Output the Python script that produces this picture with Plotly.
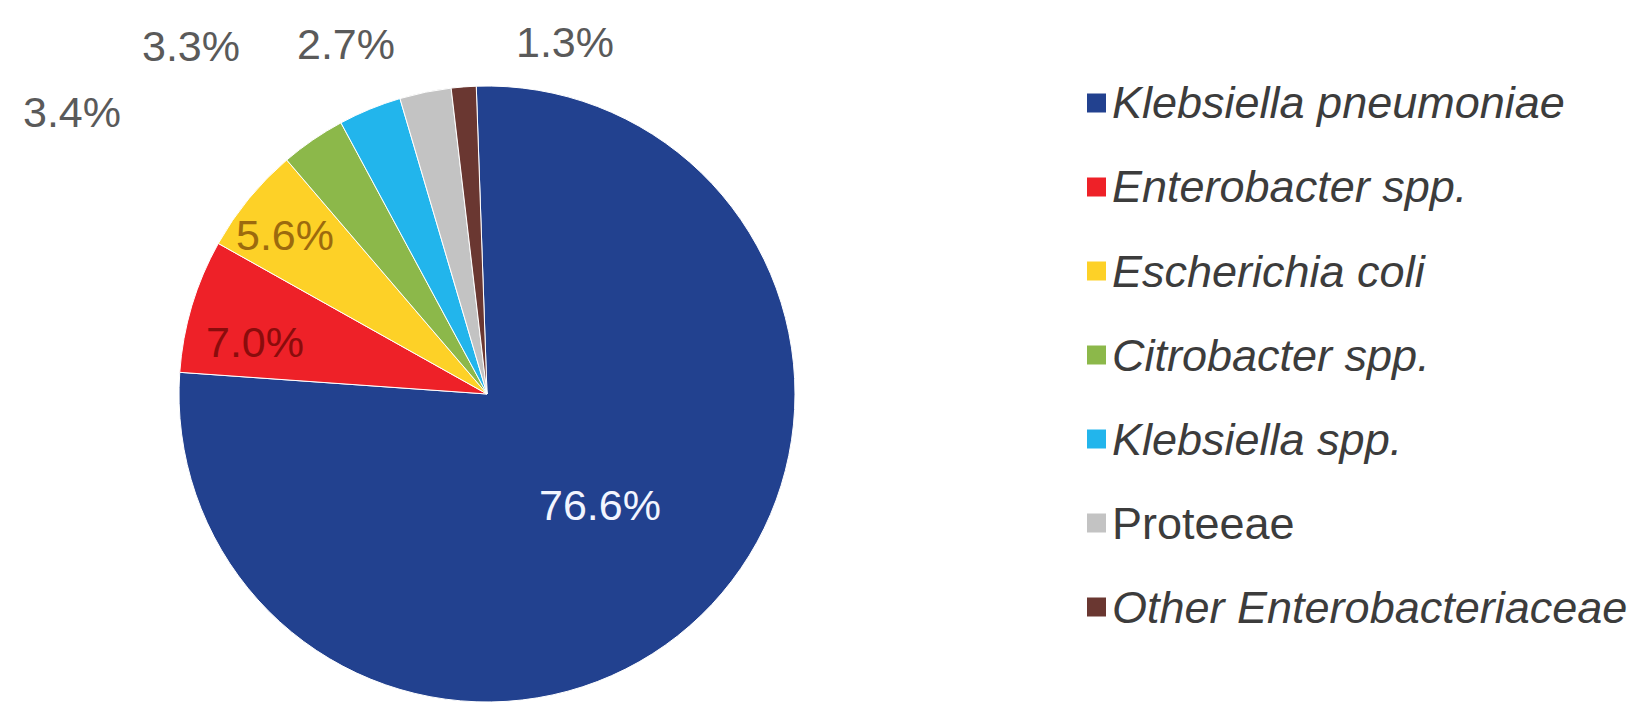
import plotly.graph_objects as go

# Share of carbapenem-resistant isolates by organism group (%)
organisms = [
    "Klebsiella pneumoniae",
    "Enterobacter spp.",
    "Escherichia coli",
    "Citrobacter spp.",
    "Klebsiella spp.",
    "Proteeae",
    "Other Enterobacteriaceae",
]
shares = [76.6, 7.0, 5.6, 3.4, 3.3, 2.7, 1.3]
italic_name = [True, True, True, True, True, False, True]

slice_colors = ["#22418F", "#EE2128", "#FDD127", "#8CB84A", "#22B5EC", "#C3C3C3", "#6A3731"]

W, H = 1643, 702
FONT = "Liberation Sans, Arial, Helvetica, sans-serif"

# pie geometry (pixels)
cx, cy, r = 487, 394, 308

fig = go.Figure(
    go.Pie(
        labels=organisms,
        values=shares,
        sort=False,
        direction="clockwise",
        rotation=-2,
        marker=dict(colors=slice_colors, line=dict(color="white", width=1)),
        textinfo="none",
        hoverinfo="label+percent",
        showlegend=False,
        domain=dict(x=[(cx - r) / W, (cx + r) / W], y=[0, 2 * r / H]),
    )
)

# percentage label placement (pixel centres) and colours
label_pos = [(600, 505), (255, 342), (285, 235), (72, 112), (191, 46), (346, 44), (565, 42)]
label_colors = ["#F2F5FF", "#8A0C0C", "#9C6A0E", "#5A5A5A", "#5A5A5A", "#5A5A5A", "#5A5A5A"]

annotations = []
for val, (px, py), col in zip(shares, label_pos, label_colors):
    annotations.append(dict(
        x=px / W, y=1 - py / H, xref="paper", yref="paper",
        text=f"{val:.1f}%", showarrow=False,
        xanchor="center", yanchor="middle",
        font=dict(family=FONT, size=43, color=col),
    ))

# legend: coloured squares with organism names
shapes = []
leg_x0, sq = 1087, 19
row0, row_gap = 103, 84
for i, (name, col, ital) in enumerate(zip(organisms, slice_colors, italic_name)):
    yc = row0 + row_gap * i
    shapes.append(dict(
        type="rect", xref="paper", yref="paper",
        x0=leg_x0 / W, x1=(leg_x0 + sq) / W,
        y0=1 - (yc + sq / 2) / H, y1=1 - (yc - sq / 2) / H,
        fillcolor=col, line=dict(width=0),
    ))
    annotations.append(dict(
        x=(leg_x0 + sq + 4) / W, y=1 - yc / H, xref="paper", yref="paper",
        text=f"<i>{name}</i>" if ital else name, showarrow=False,
        xanchor="left", yanchor="middle",
        font=dict(family=FONT, size=45, color="#3C3C3C"),
    ))

fig.update_layout(
    width=W, height=H,
    margin=dict(l=0, r=0, t=0, b=0),
    paper_bgcolor="white", plot_bgcolor="white",
    annotations=annotations,
    shapes=shapes,
)

fig.write_html("out.html")
